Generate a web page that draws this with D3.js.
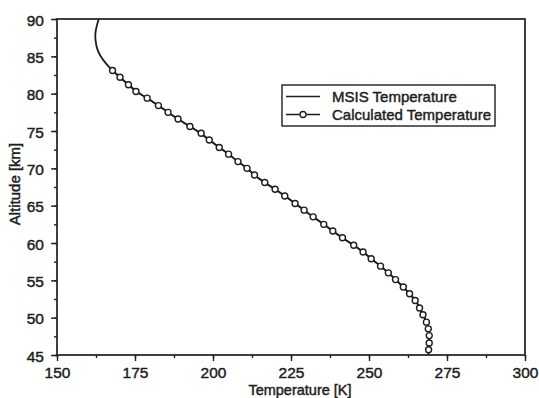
<!DOCTYPE html>
<html>
<head>
<meta charset="utf-8">
<script src="https://cdn.jsdelivr.net/npm/d3@7"></script>
<style>
  html, body { margin: 0; padding: 0; background: #fff; }
  svg { display: block; font-family: "Liberation Sans", Arial, sans-serif; }
</style>
</head>
<body>
<svg id="chart" width="539" height="398"></svg>
<script>
// MSIS model temperature profile (altitude in km, temperature in K)
const msisAltitude = [45, 46, 47, 48, 49, 50, 51, 52, 53, 54, 55, 56, 57, 58, 59, 60, 61, 62, 63, 64, 65, 66, 67,
  68, 69, 70, 71, 72, 73, 74, 75, 76, 77, 78, 79, 80, 81, 82, 83, 84, 85, 86, 87, 88, 89, 90];
const msisTemperature = [269.0, 269.2, 269.3, 269.2, 268.8, 267.8, 266.6, 265.4, 263.5, 261.2, 258.8, 256.2, 253.4,
  250.4, 247.5, 244.0, 240.4, 237.1, 233.8, 230.4, 227.3, 224.1, 220.6, 216.9, 213.6, 210.9, 207.7, 204.7, 201.4,
  198.2, 194.9, 191.1, 187.3, 183.9, 180.4, 176.6, 173.5, 170.7, 168.1, 165.8, 164.0, 162.9, 162.4, 162.3, 162.7, 163.4];

// Retrieved (calculated) temperature profile
const calcAltitude = [45.7, 46.6, 47.6, 48.5, 49.4, 50.4, 51.3, 52.3, 53.2, 54.1, 55.1, 56.0, 56.9, 57.9, 58.8, 59.7,
  60.7, 61.6, 62.5, 63.5, 64.4, 65.3, 66.3, 67.2, 68.1, 69.1, 70.0, 70.9, 71.9, 72.8, 73.8, 74.7, 75.6, 76.6, 77.5,
  78.4, 79.4, 80.3, 81.2, 82.2, 83.1];
const calcTemperature = [269.1, 269.3, 269.3, 269.0, 268.4, 267.3, 266.2, 264.8, 263.0, 261.0, 258.5, 256.2, 253.7,
  250.7, 248.1, 245.1, 241.5, 238.4, 235.5, 232.1, 229.2, 226.3, 223.0, 219.9, 216.6, 213.3, 210.9, 208.0, 205.0,
  202.0, 198.8, 196.2, 192.6, 188.8, 185.6, 182.5, 178.9, 175.3, 172.9, 170.2, 167.8];

const xTicks = [150, 175, 200, 225, 250, 275, 300];
const yTicks = [45, 50, 55, 60, 65, 70, 75, 80, 85, 90];
const legendLabels = ["MSIS Temperature", "Calculated Temperature"];

const svg = d3.select("#chart");
const ink = "#1e1e1e";
const margin = { left: 57, right: 14, top: 19, bottom: 43 };
const W = 539, H = 398;

const x = d3.scaleLinear().domain([150, 300]).range([margin.left, W - margin.right]);
const y = d3.scaleLinear().domain([45, 90]).range([H - margin.bottom, margin.top]);

// frame
svg.append("rect")
  .attr("x", x(150)).attr("y", y(90))
  .attr("width", x(300) - x(150)).attr("height", y(45) - y(90))
  .attr("fill", "none").attr("stroke", ink).attr("stroke-width", 1.7);

// minor ticks
svg.append("g").attr("transform", `translate(0,${y(45)})`)
  .call(d3.axisBottom(x).tickValues(d3.range(150, 301, 12.5)).tickSize(3).tickFormat(""));
svg.append("g").attr("transform", `translate(${x(150)},0)`)
  .call(d3.axisLeft(y).tickValues(d3.range(45, 90.1, 2.5)).tickSize(3).tickFormat(""));

// major ticks and labels
svg.append("g").attr("transform", `translate(0,${y(45)})`)
  .call(d3.axisBottom(x).tickValues(xTicks).tickSize(6).tickPadding(6).tickFormat(d3.format("d")));
const gy2 = svg.append("g").attr("transform", `translate(${x(150)},0)`)
  .call(d3.axisLeft(y).tickValues(yTicks).tickSize(6).tickPadding(7).tickFormat(d3.format("d")));

svg.selectAll(".domain").remove();
svg.selectAll(".tick line").attr("stroke", ink).attr("stroke-width", 1.4);
svg.selectAll(".tick text")
  .attr("fill", ink).attr("font-size", 15.5)
  .attr("font-family", "'Liberation Sans', Arial, sans-serif")
  .attr("stroke", ink).attr("stroke-width", 0.45);
gy2.selectAll(".tick text").attr("dy", "0.4em");

// axis titles
svg.append("text")
  .attr("x", 300).attr("y", 395)
  .attr("text-anchor", "middle").attr("font-size", 14.5).attr("fill", ink)
  .attr("stroke", ink).attr("stroke-width", 0.45)
  .text("Temperature [K]");
svg.append("text")
  .attr("transform", `translate(20,184) rotate(-90)`)
  .attr("text-anchor", "middle").attr("font-size", 15).attr("fill", ink)
  .attr("stroke", ink).attr("stroke-width", 0.45)
  .text("Altitude [km]");

// curves
const line = d3.line().curve(d3.curveCatmullRom.alpha(0.5));
const msisPts = msisAltitude.map((a, i) => [x(msisTemperature[i]), y(a)]);
const calcPts = calcAltitude.map((a, i) => [x(calcTemperature[i]), y(a)]);

svg.append("path").attr("d", line(msisPts))
  .attr("fill", "none").attr("stroke", ink).attr("stroke-width", 1.8);
svg.append("path").attr("d", line(calcPts))
  .attr("fill", "none").attr("stroke", ink).attr("stroke-width", 1.5);
svg.append("g").selectAll("circle").data(calcPts).join("circle")
  .attr("cx", d => d[0]).attr("cy", d => d[1]).attr("r", 3)
  .attr("fill", "#fff").attr("stroke", ink).attr("stroke-width", 1.4);

// legend
const lg = svg.append("g");
lg.append("rect").attr("x", 282).attr("y", 85).attr("width", 213).attr("height", 41)
  .attr("fill", "#fff").attr("stroke", ink).attr("stroke-width", 1.4);
const rows = [96.5, 114.5];
rows.forEach((ry, i) => {
  lg.append("line").attr("x1", 286).attr("x2", 320).attr("y1", ry).attr("y2", ry)
    .attr("stroke", ink).attr("stroke-width", 1.6);
  if (i === 1) {
    lg.append("circle").attr("cx", 303).attr("cy", ry).attr("r", 3)
      .attr("fill", "#fff").attr("stroke", ink).attr("stroke-width", 1.3);
  }
  lg.append("text").attr("x", 332).attr("y", ry).attr("dy", "0.36em")
    .attr("font-size", 15).attr("fill", ink)
    .attr("stroke", ink).attr("stroke-width", 0.45)
    .text(legendLabels[i]);
});
</script>
</body>
</html>
